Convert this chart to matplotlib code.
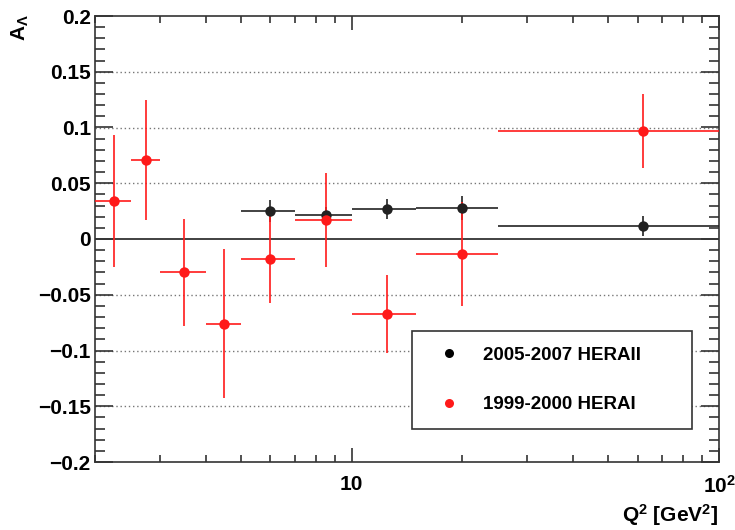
import matplotlib
matplotlib.use("Agg")
import matplotlib.pyplot as plt
from matplotlib.ticker import FixedLocator, FixedFormatter, MultipleLocator, NullFormatter
from matplotlib.lines import Line2D

plt.rcParams['font.family'] = ['Liberation Sans', 'DejaVu Sans']
plt.rcParams['font.weight'] = 'bold'
plt.rcParams['mathtext.fontset'] = 'custom'
plt.rcParams['mathtext.rm'] = 'Liberation Sans:bold'
plt.rcParams['mathtext.it'] = 'Liberation Sans:bold'
plt.rcParams['mathtext.bf'] = 'Liberation Sans:bold'
plt.rcParams['mathtext.default'] = 'rm'

# HERA I (1999-2000) - red
herai_q2 = [2.25, 2.75, 3.5, 4.5, 6.0, 8.5, 12.5, 20.0, 62.0]
herai_lo = [2.0, 2.5, 3.0, 4.0, 5.0, 7.0, 10.0, 15.0, 25.0]
herai_hi = [2.5, 3.0, 4.0, 5.0, 7.0, 10.0, 15.0, 25.0, 200.0]
herai_A = [0.034, 0.071, -0.030, -0.076, -0.018, 0.017, -0.067, -0.0135, 0.097]
herai_err = [0.059, 0.054, 0.048, 0.067, 0.039, 0.042, 0.035, 0.047, 0.033]

# HERA II (2005-2007) - black
heraii_q2 = [6.0, 8.5, 12.5, 20.0, 62.0]
heraii_lo = [5.0, 7.0, 10.0, 15.0, 25.0]
heraii_hi = [7.0, 10.0, 15.0, 25.0, 200.0]
heraii_A = [0.0254, 0.0218, 0.0272, 0.028, 0.0117]
heraii_err = [0.010, 0.007, 0.009, 0.011, 0.009]

y_grid = [-0.15, -0.1, -0.05, 0.05, 0.1, 0.15]
x_major = [10, 100]
x_major_labels = ['10', r'$10^{2}$']
legend_labels = ['2005-2007 HERAII', '1999-2000 HERAI']

W, H = 735, 530
fig = plt.figure(figsize=(W / 100, H / 100), dpi=100)
ax = fig.add_axes([95 / W, 1 - 462 / H, (719 - 95) / W, (462 - 16) / H])
ax.set_xscale('log')
ax.set_xlim(2.0, 100)
ax.set_ylim(-0.2, 0.2)

for yv in y_grid:
    ax.axhline(yv, color='#777777', lw=1.0, ls=(0, (1, 2)), zorder=0)
ax.axhline(0, color='#333333', lw=1.3, zorder=1)

def draw(q, lo, hi, a, e, color):
    xerr = [[qq - l for qq, l in zip(q, lo)], [h - qq for qq, h in zip(q, hi)]]
    ax.errorbar(q, a, xerr=xerr, yerr=e, fmt='o', color=color, ecolor=color,
                elinewidth=1.2, capsize=4, capthick=1.3, markersize=7.5,
                markeredgewidth=0, zorder=3, clip_on=True)

draw(heraii_q2, heraii_lo, heraii_hi, heraii_A, heraii_err, '#222222')
draw(herai_q2, herai_lo, herai_hi, herai_A, herai_err, '#ff1a1a')

ax.xaxis.set_major_locator(FixedLocator(x_major))
ax.xaxis.set_major_formatter(FixedFormatter(x_major_labels))
ax.xaxis.set_minor_locator(FixedLocator([2, 3, 4, 5, 6, 7, 8, 9, 20, 30, 40, 50, 60, 70, 80, 90]))
ax.xaxis.set_minor_formatter(NullFormatter())
ax.yaxis.set_major_locator(MultipleLocator(0.05))
ax.yaxis.set_minor_locator(MultipleLocator(0.01))
ax.yaxis.set_major_formatter(matplotlib.ticker.FuncFormatter(
    lambda v, p: ('0' if abs(v) < 1e-9 else ('%g' % v).replace('-', '\u2212'))))

ax.tick_params(which='both', direction='in', top=True, right=True, color='#333333', width=1.2)
ax.tick_params(axis='y', which='major', length=13)
ax.tick_params(axis='y', which='minor', length=7)
ax.tick_params(axis='x', which='major', length=10)
ax.tick_params(axis='x', which='minor', length=5)
ax.tick_params(axis='y', labelsize=15, pad=3)
ax.tick_params(axis='x', labelsize=15, pad=9)
for sp in ax.spines.values():
    sp.set_color('#333333')
    sp.set_linewidth(1.2)

fig.text(20 / W, 1 - 14 / H, r'A$_{\Lambda}$', rotation=90, ha='center', va='top', fontsize=15)
fig.text(718 / W, 1 - 515 / H, r'Q$^{2}$ [GeV$^{2}$]', ha='right', va='center', fontsize=15)

handles = [Line2D([], [], ls='none', marker='o', color='black', markersize=6.5, markeredgewidth=0),
           Line2D([], [], ls='none', marker='o', color='#ff1a1a', markersize=6.5, markeredgewidth=0)]
leg = ax.legend(handles, legend_labels, loc='upper left',
                bbox_to_anchor=(411.7 / W, 1 - 330.7 / H, (692.3 - 411.7) / W, 0.0),
                bbox_transform=fig.transFigure, mode='expand', fontsize=13.5,
                frameon=True, fancybox=False, edgecolor='#333333', framealpha=1,
                borderpad=0.85, labelspacing=1.72, handlelength=2.3, handletextpad=0.67,
                borderaxespad=0)
leg.get_frame().set_linewidth(1.2)

fig.savefig('out.png', dpi=100)
